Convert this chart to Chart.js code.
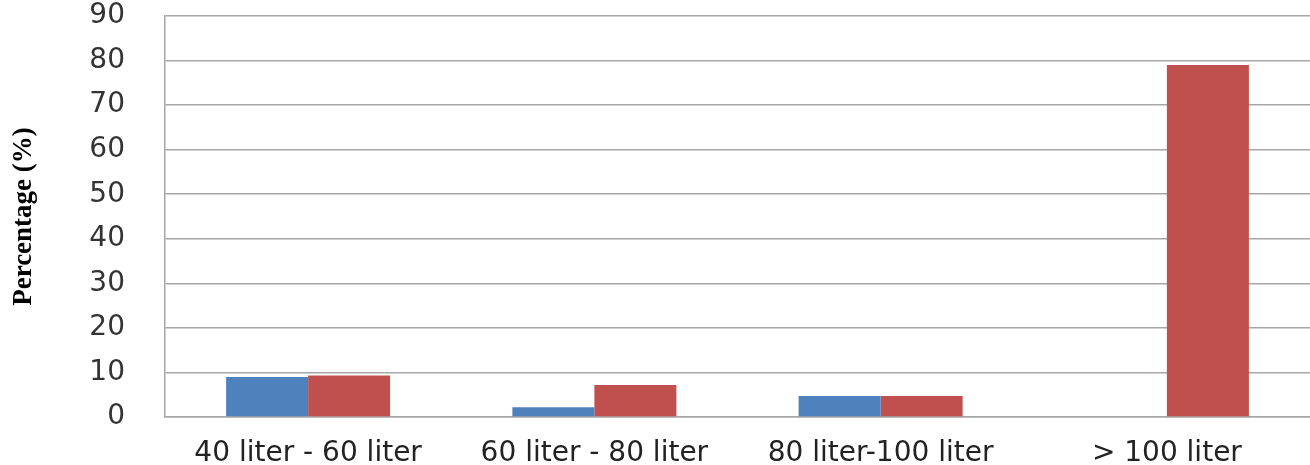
<!DOCTYPE html>
<html>
<head>
<meta charset="utf-8">
<script src="https://cdn.jsdelivr.net/npm/chart.js@4/dist/chart.umd.min.js"></script>
<style>
  body { margin: 0; background: #fff; }
  #wrap { width: 1310px; height: 465px; }
</style>
</head>
<body>
<div id="wrap"><canvas id="volume"></canvas></div>
<script>
const categories = ["40 liter - 60 liter", "60 liter - 80 liter", "80 liter-100 liter", "> 100 liter"];
const seriesBlue = [9.0, 2.2, 4.7, 0];
const seriesRed = [9.3, 7.2, 4.7, 79];
const yTicks = [0, 10, 20, 30, 40, 50, 60, 70, 80, 90];

var ctx = document.getElementById("volume");
var volume = new Chart(ctx, {
  type: "bar",
  data: {
    labels: categories,
    datasets: [
      {
        label: "Series 1",
        data: seriesBlue,
        backgroundColor: "#4f81bd",
        categoryPercentage: 0.573,
        barPercentage: 1.0,
      },
      {
        label: "Series 2",
        data: seriesRed,
        backgroundColor: "#c0504d",
        categoryPercentage: 0.573,
        barPercentage: 1.0,
      },
    ],
  },
  options: {
    responsive: true,
    maintainAspectRatio: false,
    animation: false,
    layout: { padding: { top: 16, right: 0, bottom: 0, left: 8 } },
    plugins: {
      legend: { display: false },
      tooltip: { enabled: false },
    },
    scales: {
      x: {
        grid: { display: false },
        border: { color: "#a6a6a6", width: 1.5 },
        afterFit: (axis) => {
          axis.height = 48;
          axis.paddingTop = 0;
          axis.paddingBottom = 0;
          axis.paddingLeft = 0;
          axis.paddingRight = 0;
        },
        ticks: {
          color: "#222",
          padding: 12,
          maxRotation: 0,
          autoSkip: false,
          font: { family: "DejaVu Sans", size: 28 },
        },
      },
      y: {
        min: 0,
        max: 90,
        afterBuildTicks: (axis) => {
          axis.ticks = yTicks.map((v) => ({ value: v }));
        },
        afterFit: (axis) => {
          axis.width = 157;
          axis.paddingTop = 0;
          axis.paddingBottom = 0;
        },
        grid: { color: "#a6a6a6", lineWidth: 1.5, drawTicks: false },
        border: { color: "#a6a6a6", width: 1.5 },
        ticks: {
          color: "#333",
          padding: 40,
          font: { family: "DejaVu Sans", size: 28 },
        },
        title: {
          display: true,
          text: "Percentage (%)",
          color: "#000",
          padding: 0,
          font: { family: "Liberation Serif", size: 27, weight: "bold" },
        },
      },
    },
  },
});
</script>
</body>
</html>
